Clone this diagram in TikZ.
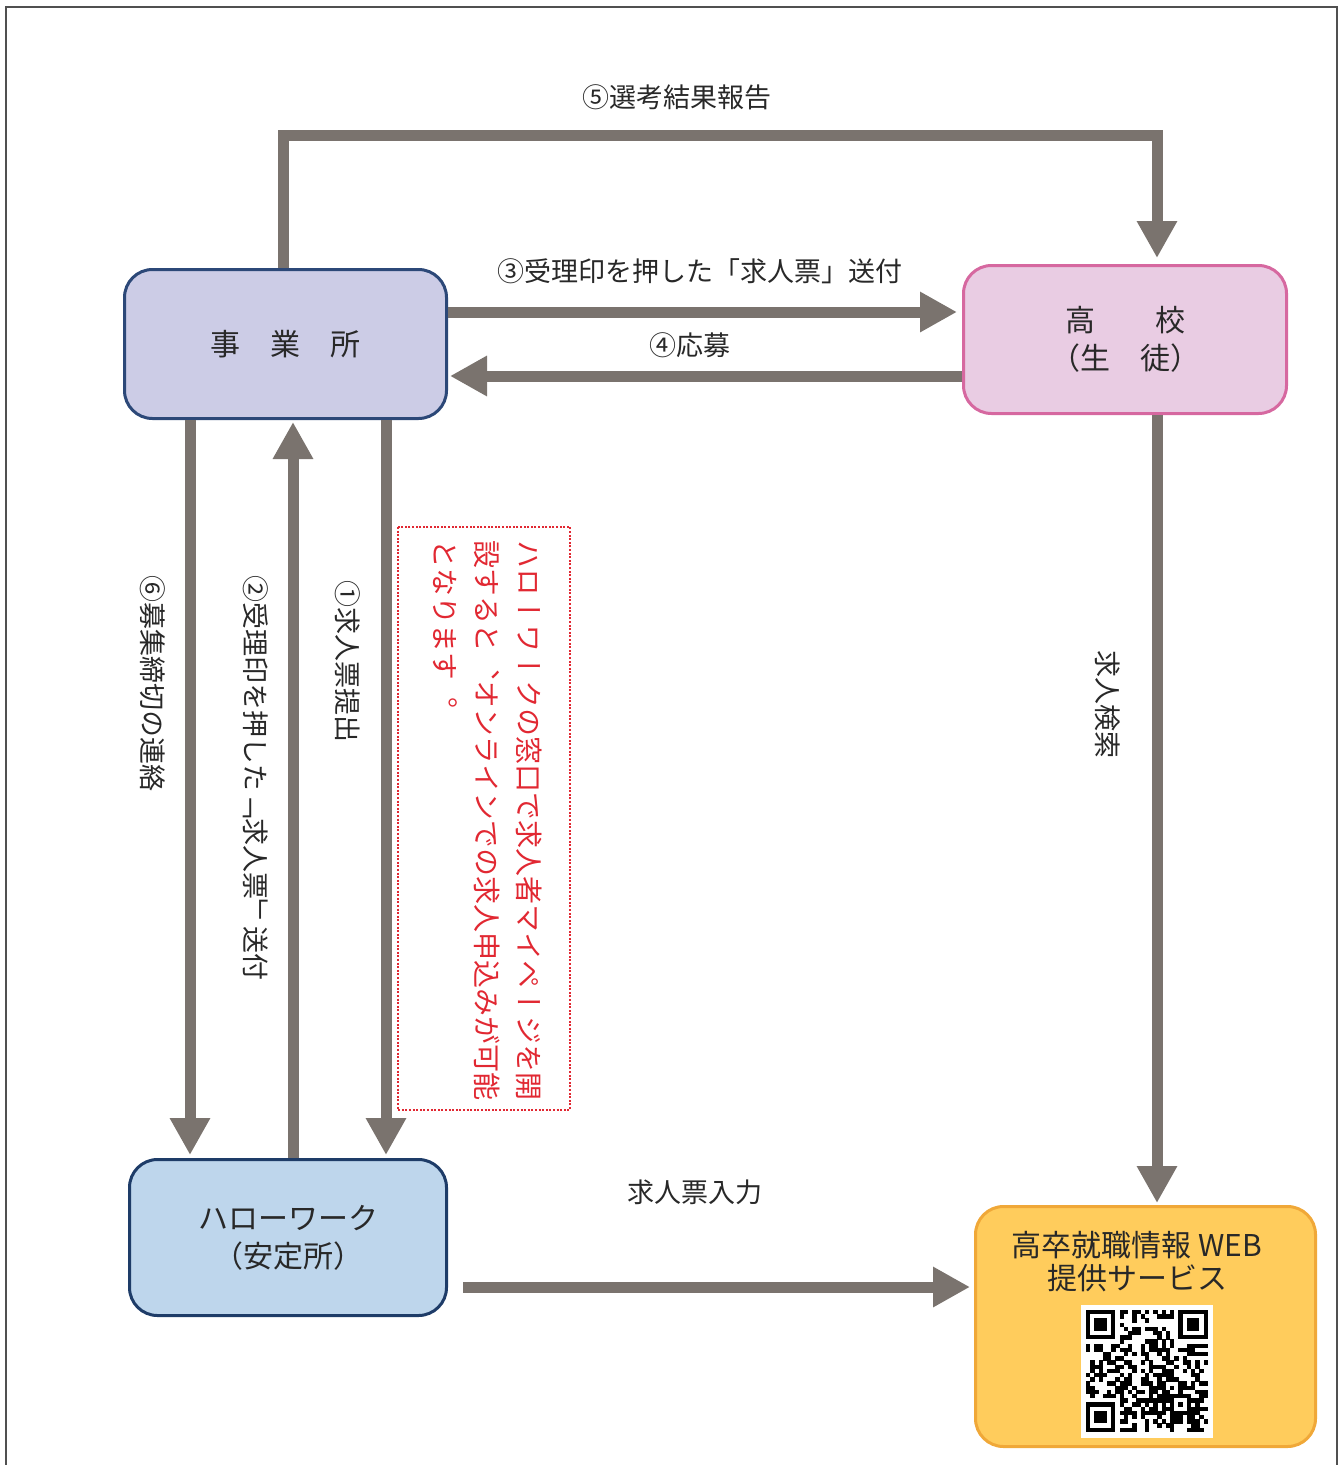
\documentclass[tikz,border=0pt]{standalone}
\usepackage{fontspec}
\setmainfont{Noto Sans CJK JP}
\newfontfamily\tate[Vertical=RotatedGlyphs]{Noto Sans CJK JP}
\usetikzlibrary{arrows.meta}
\definecolor{arrowgray}{RGB}{122,115,110}
\definecolor{framegray}{RGB}{80,80,80}
\definecolor{inkgray}{RGB}{40,40,40}
\definecolor{jigyofill}{RGB}{204,204,230}
\definecolor{jigyoline}{RGB}{44,72,120}
\definecolor{kokofill}{RGB}{233,204,227}
\definecolor{kokoline}{RGB}{214,104,160}
\definecolor{hwfill}{RGB}{190,214,236}
\definecolor{hwline}{RGB}{30,60,104}
\definecolor{webfill}{RGB}{255,204,92}
\definecolor{webline}{RGB}{240,168,56}
\definecolor{notered}{RGB}{225,40,50}

\begin{document}
\begin{tikzpicture}[x=1pt,y=-1pt,
  flow/.style={draw=arrowgray, line width=11pt, -{Triangle[length=37pt,width=38pt]}},
  box/.style={rounded corners=28pt, line width=3pt, align=center, inner sep=0pt,
    text=inkgray, font=\fontsize{30}{38}\selectfont},
  lbl/.style={text=inkgray, inner sep=0pt, font=\fontsize{27}{32}\selectfont},
  vlbl/.style={text=inkgray, inner sep=0pt, font=\tate\fontsize{27}{32}\selectfont,
    rotate=-90, anchor=west},
  note/.style={text=notered, align=left, font=\tate\fontsize{28}{42}\selectfont, rotate=-90}]
\useasboundingbox (0,0) rectangle (1343,1465);
\draw[framegray, line width=2.5pt] (6,1465) -- (6,7) -- (1337,7) -- (1337,1465);

\node[box, draw=jigyoline, fill=jigyofill, minimum width=322pt, minimum height=149pt] (jigyo) at (285.5,344) {事　業　所};
\node[box, draw=kokoline, fill=kokofill, minimum width=323pt, minimum height=148pt] (koko) at (1125,339.5) {高　　校\\（生　徒）};
\node[box, draw=hwline, fill=hwfill, minimum width=317pt, minimum height=156pt] (hw) at (288,1237.5) {ハローワーク\\（安定所）};
\node[box, draw=webline, fill=webfill, minimum width=340pt, minimum height=240pt] (web) at (1145.5,1326.5) {};
\node[box, font=\fontsize{30}{33}\selectfont] (webtxt) at (1137,1262) {高卒就職情報 WEB\\提供サービス};

\fill[white] (1081,1305) rectangle (1213,1438);
\pgfmathsetseed{42}
\foreach \i in {0,...,28}{
  \foreach \j in {0,...,28}{
    \pgfmathrandominteger{\r}{0}{1}
    \pgfmathparse{((\i<8)&&(\j<8)) || ((\i>20)&&(\j<8)) || ((\i<8)&&(\j>20)) || ((\i>19)&&(\i<25)&&(\j>19)&&(\j<25)) ? 0 : \r}
    \ifnum\pgfmathresult=1
      \fill (1086+\i*4.2,1310+\j*4.2) rectangle ++(4.3,4.3);
    \fi
  }
}
\foreach \fx/\fy in {0/0,22/0,0/22}{
  \fill (1086+\fx*4.2,1310+\fy*4.2) rectangle ++(29.4,29.4);
  \fill[white] (1090.2+\fx*4.2,1314.2+\fy*4.2) rectangle ++(21,21);
  \fill (1094.4+\fx*4.2,1318.4+\fy*4.2) rectangle ++(12.6,12.6);
}
\fill (1170,1394) rectangle ++(21,21);
\fill[white] (1174.2,1398.2) rectangle ++(12.6,12.6);
\fill (1178.4,1402.4) rectangle ++(4.2,4.2);

\coordinate (top5) at (700,135);
\draw[flow] ([xshift=-2.5pt]jigyo.north) |- (top5) -| ([xshift=32pt,yshift=6pt]koko.north);
\draw[flow] ([yshift=32pt]jigyo.east) -- ([xshift=-5pt,yshift=27.5pt]koko.west);
\draw[flow] ([yshift=-36.5pt]koko.west) -- ([xshift=2pt,yshift=-32pt]jigyo.east);
\draw[flow] ([xshift=-95.5pt]jigyo.south) -- ([xshift=-98pt,yshift=3pt]hw.north);
\draw[flow] ([xshift=5pt]hw.north) -- ([xshift=7.5pt,yshift=-2pt]jigyo.south);
\draw[flow] ([xshift=100.5pt]jigyo.south) -- ([xshift=98pt,yshift=3pt]hw.north);
\draw[flow] ([xshift=32pt]koko.south) -- ([xshift=11.5pt,yshift=2pt]web.north);
\draw[flow] ([xshift=15pt,yshift=-49.5pt]hw.east) -- ([xshift=-4pt,yshift=39.5pt]web.west);

\node[lbl] (lbl5) at (677,97) {⑤選考結果報告};
\node[lbl] (lbl3) at (700,271) {③受理印を押した「求人票」送付};
\node[lbl] (lbl4) at (690,345) {④応募};
\node[lbl] (nyuryoku) at (695,1192) {求人票入力};
\node[vlbl] (lbl6) at (153,575) {⑥募集締切の連絡};
\node[vlbl] (lbl2) at (256,575) {②受理印を押した「求人票」送付};
\node[vlbl] (lbl1) at (348,580) {①求人票提出};
\node[vlbl] (kensaku) at (1108,650) {求人検索};
\draw[notered, line width=2.2pt, dash pattern=on 2pt off 1.6pt] (398,527) rectangle (570,1110);
\node[note, inner sep=0pt] (memo) at (488,820)
  {ハローワークの窓口で求人者マイページを開\\設すると、オンラインでの求人申込みが可能\\となります。};
\end{tikzpicture}
\end{document}
